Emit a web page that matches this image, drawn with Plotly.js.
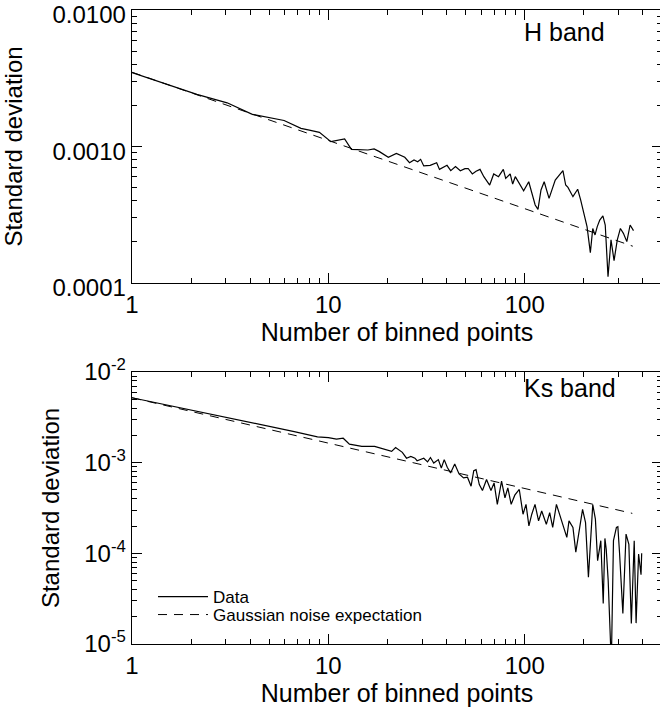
<!DOCTYPE html>
<html>
<head>
<meta charset="utf-8">
<script src="https://cdn.plot.ly/plotly-3.0.1.min.js"></script>
<style>
  html, body { margin: 0; padding: 0; background: #fff; overflow: hidden; }
  #chart { width: 664px; height: 708px; }
</style>
</head>
<body>
<div id="chart"></div>
<script>
// ---------- H band (top panel) ----------
const hBinned = [1, 2.14, 3.05, 4.1, 5.95, 7.25, 8, 9.0, 10.3, 12.1, 13.1, 15.9, 17.1, 18.2, 20.2, 22.2, 24.5, 25.9, 27.3, 28.5, 29.5, 30.6, 33, 35.6, 36.8, 40.2, 42, 44.4, 47, 49.6, 51.5, 54.1, 56.5, 59.2, 61.9, 66.3, 69.5, 73.5, 77.8, 80, 84.3, 86.8, 89.5, 93, 98.7, 104.8, 108.5, 113, 116.8, 121, 125.6, 133, 143, 149, 156.5, 161.6, 166, 176, 183, 186, 192.6, 200, 207.6, 215.8, 222, 228, 234, 241, 250, 257, 265.5, 275, 285, 296, 307, 318, 331, 344, 358];
const hStd = [3.48e-3, 2.41e-3, 2.09e-3, 1.72e-3, 1.55e-3, 1.358e-3, 1.32e-3, 1.27e-3, 1.085e-3, 1.135e-3, 9.54e-4, 9.43e-4, 9.59e-4, 9.17e-4, 8.33e-4, 8.91e-4, 8.33e-4, 7.61e-4, 7.96e-4, 7.74e-4, 8.05e-4, 7.20e-4, 7.28e-4, 7.61e-4, 6.80e-4, 7.28e-4, 6.65e-4, 7.12e-4, 6.65e-4, 6.88e-4, 6.90e-4, 6.29e-4, 6.58e-4, 6.80e-4, 6.01e-4, 5.22e-4, 6.29e-4, 6.01e-4, 6.80e-4, 5.84e-4, 6.29e-4, 5.31e-4, 6.01e-4, 5.52e-4, 4.74e-4, 5.52e-4, 4.67e-4, 3.73e-4, 3.46e-4, 4.80e-4, 5.52e-4, 4.17e-4, 5.68e-4, 6.08e-4, 6.65e-4, 5.22e-4, 5.02e-4, 4.29e-4, 4.74e-4, 4.86e-4, 4.06e-4, 3.15e-4, 2.59e-4, 1.67e-4, 2.51e-4, 2.25e-4, 2.59e-4, 2.89e-4, 3.10e-4, 2.66e-4, 1.11e-4, 2.07e-4, 1.46e-4, 2.07e-4, 2.51e-4, 2.31e-4, 2.01e-4, 2.66e-4, 2.42e-4];
const hGaussN = [1, 355];
const hGaussStd = [3.5e-3, 1.86e-4];

// ---------- Ks band (bottom panel) ----------
const kBinned = [1, 2.0, 3.05, 4.1, 5.0, 6.7, 8.8, 10, 11, 11.9, 12.8, 14.8, 17.2, 19, 21, 22, 23.8, 25, 26.3, 27.6, 28.3, 30.6, 32, 33.1, 34.4, 36.3, 37.6, 38.9, 40.3, 41.9, 44, 46.3, 48.8, 51.1, 53.3, 55, 56.5, 58.7, 60.9, 63.9, 67.3, 69.8, 72.5, 76.2, 79.3, 82, 85.3, 89, 93.8, 98, 101.5, 105, 108.6, 112.8, 117.6, 122, 128.8, 134, 138.8, 145, 150, 155.7, 163.8, 168, 176, 182, 190.6, 197, 204, 211, 222, 229, 235, 244, 251, 256, 260, 266, 276, 283, 293, 298, 304, 316, 328, 339, 349, 361, 369, 380, 391, 394];
const kStd = [5.2e-3, 3.82e-3, 3.15e-3, 2.75e-3, 2.5e-3, 2.2e-3, 1.93e-3, 1.89e-3, 1.82e-3, 1.86e-3, 1.60e-3, 1.51e-3, 1.51e-3, 1.41e-3, 1.33e-3, 1.47e-3, 1.30e-3, 1.12e-3, 1.17e-3, 1.12e-3, 1.05e-3, 1.12e-3, 1.02e-3, 1.14e-3, 9.91e-4, 1.08e-3, 8.74e-4, 1.08e-3, 8.89e-4, 7.71e-4, 9.66e-4, 7.52e-4, 6.80e-4, 6.91e-4, 5.50e-4, 8.17e-4, 8.38e-4, 5.74e-4, 4.93e-4, 6.51e-4, 4.93e-4, 5.98e-4, 3.47e-4, 6.25e-4, 4.10e-4, 5.28e-4, 3.47e-4, 4.38e-4, 5.06e-4, 2.70e-4, 3.47e-4, 2.01e-4, 2.70e-4, 3.47e-4, 2.28e-4, 2.93e-4, 2.09e-4, 2.81e-4, 1.93e-4, 3.47e-4, 2.70e-4, 2.18e-4, 1.50e-4, 2.28e-4, 1.93e-4, 1.03e-4, 2.01e-4, 3.05e-4, 2.18e-4, 5.46e-5, 3.45e-4, 2.38e-4, 8.3e-5, 1.38e-4, 2.79e-5, 1.46e-4, 1.11e-4, 5.02e-5, 6e-6, 1.38e-4, 1.93e-4, 1.97e-4, 1.0e-4, 2.17e-5, 1.63e-4, 1.26e-4, 1.68e-5, 1.38e-4, 1.7e-5, 9.84e-5, 5.8e-5, 1.0e-4];
const kGaussN = [1, 353];
const kGaussStd = [5.2e-3, 2.76e-4];

// ---------- ticks / labels ----------
const xRange = [1, 500];
const xTickVals = [1, 10, 100];
const xTickText = ['1', '10', '100'];
const xMinorVals = [2, 3, 4, 5, 6, 7, 8, 9, 20, 30, 40, 50, 60, 70, 80, 90, 200, 300, 400];
const hRange = [1e-4, 1e-2];
const hTickVals = [1e-4, 1e-3, 1e-2];
const hTickText = ['0.0001', '0.0010', '0.0100'];
const hMinorVals = [2e-4, 3e-4, 4e-4, 5e-4, 6e-4, 7e-4, 8e-4, 9e-4, 2e-3, 3e-3, 4e-3, 5e-3, 6e-3, 7e-3, 8e-3, 9e-3];
const kRange = [1e-5, 1e-2];
const kTickVals = [1e-5, 1e-4, 1e-3, 1e-2];
const kTickText = ['10<sup>-5</sup>', '10<sup>-4</sup>', '10<sup>-3</sup>', '10<sup>-2</sup>'];
const kMinorVals = [2e-5, 3e-5, 4e-5, 5e-5, 6e-5, 7e-5, 8e-5, 9e-5, 2e-4, 3e-4, 4e-4, 5e-4, 6e-4, 7e-4, 8e-4, 9e-4, 2e-3, 3e-3, 4e-3, 5e-3, 6e-3, 7e-3, 8e-3, 9e-3];
const xTitle = 'Number of binned points';
const yTitle = 'Standard deviation';
const legendNames = ['Data', 'Gaussian noise expectation'];
const panelLabels = ['H band', 'Ks band'];

const FONT = '"Liberation Sans", Arial, Helvetica, sans-serif';
const W = 664, H = 708;
const lg = v => v.map(Math.log10);

const traces = [
  {x: hBinned, y: hStd, xaxis: 'x', yaxis: 'y', mode: 'lines', showlegend: false,
   line: {color: '#000', width: 1.2}, name: legendNames[0]},
  {x: hGaussN, y: hGaussStd, xaxis: 'x', yaxis: 'y', mode: 'lines', showlegend: false,
   line: {color: '#000', width: 1, dash: '9px,7px'}, name: legendNames[1]},
  {x: kBinned, y: kStd, xaxis: 'x2', yaxis: 'y2', mode: 'lines', legend: 'legend',
   line: {color: '#000', width: 1.2}, name: legendNames[0]},
  {x: kGaussN, y: kGaussStd, xaxis: 'x2', yaxis: 'y2', mode: 'lines', legend: 'legend2',
   line: {color: '#000', width: 1, dash: '9px,7px'}, name: legendNames[1]}
];

const common = {
  showgrid: false, zeroline: false, automargin: false, ticklabeloverflow: 'allow',
  tickcolor: '#000', tickmode: 'array',
  showline: true, linecolor: '#000', linewidth: 1.3, mirror: 'allticks',
  ticks: 'inside', ticklen: 10, tickwidth: 1.1,
  tickfont: {family: FONT, size: 24, color: '#000'}
};

function xAxis(anchor) {
  return Object.assign({}, common, {
    type: 'log', range: lg(xRange), domain: [132 / W, 662 / W], anchor: anchor,
    tickvals: xTickVals, ticktext: xTickText,
    minor: {tickmode: 'array', tickvals: xMinorVals, ticks: 'inside', ticklen: 5, tickwidth: 1, tickcolor: '#000', showgrid: false},
    title: {text: xTitle, font: {family: FONT, size: 25, color: '#000'}, standoff: 4}
  });
}
function yAxis(anchor, range, dom, vals, text, minor, standoff, shift) {
  return Object.assign({}, common, {
    type: 'log', range: lg(range), domain: dom, anchor: anchor,
    tickvals: vals, ticktext: text, ticklabelshift: shift,
    minor: {tickmode: 'array', tickvals: minor, ticks: 'inside', ticklen: 5, tickwidth: 1, tickcolor: '#000', showgrid: false},
    title: {text: yTitle, font: {family: FONT, size: 24, color: '#000'}, standoff: standoff}
  });
}

const legendBase = {
  xanchor: 'left', yanchor: 'top', bgcolor: 'rgba(0,0,0,0)', borderwidth: 0,
  font: {family: FONT, size: 17, color: '#000'}, itemwidth: 50
};

const layout = {
  width: W, height: H,
  margin: {l: 0, r: 0, t: 0, b: 0},
  paper_bgcolor: '#fff', plot_bgcolor: 'rgba(0,0,0,0)',
  font: {family: FONT, color: '#000'},
  xaxis: xAxis('y'),
  yaxis: yAxis('x', hRange, [(H - 283) / H, (H - 10) / H], hTickVals, hTickText, hMinorVals, 26, 5),
  xaxis2: xAxis('y2'),
  yaxis2: yAxis('x2', kRange, [(H - 644) / H, (H - 372) / H], kTickVals, kTickText, kMinorVals, 18, 0),
  showlegend: true,
  legend: Object.assign({}, legendBase, {x: 153 / W, y: (H - 579) / H}),
  legend2: Object.assign({}, legendBase, {x: 153 / W, y: (H - 597) / H}),
  annotations: [
    {text: panelLabels[0], xref: 'paper', yref: 'paper', x: 607 / W, y: (H - 32) / H,
     xanchor: 'right', yanchor: 'middle', showarrow: false,
     font: {family: FONT, size: 25, color: '#000'}},
    {text: panelLabels[1], xref: 'paper', yref: 'paper', x: 618 / W, y: (H - 388) / H,
     xanchor: 'right', yanchor: 'middle', showarrow: false,
     font: {family: FONT, size: 25, color: '#000'}}
  ]
};

Plotly.newPlot('chart', traces, layout, {displayModeBar: false, staticPlot: true});
</script>
</body>
</html>
